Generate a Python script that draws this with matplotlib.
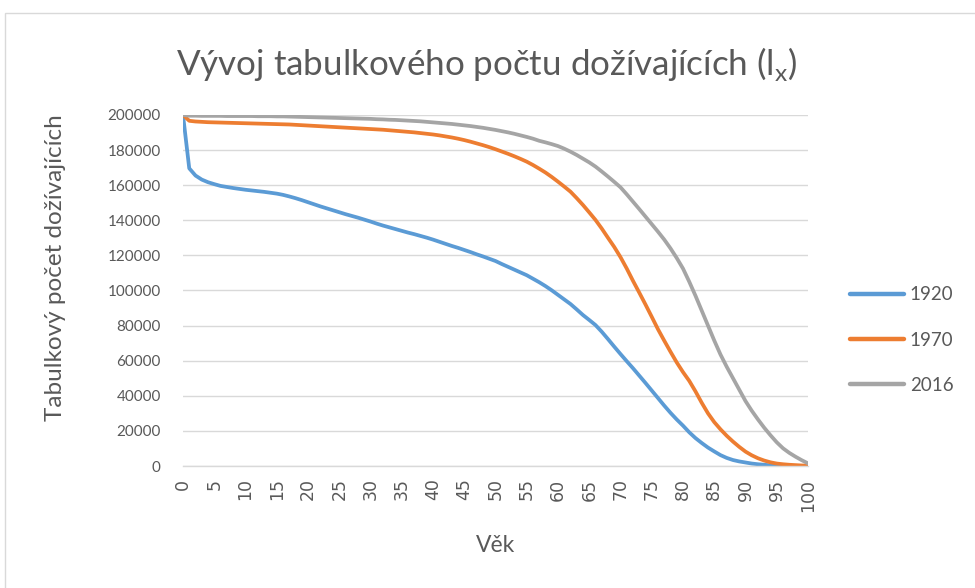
import matplotlib
matplotlib.use("Agg")
import matplotlib.pyplot as plt
from matplotlib.patches import Rectangle

plt.rcParams['font.family'] = ['Lato', 'DejaVu Sans']
plt.rcParams['mathtext.fontset'] = 'custom'
plt.rcParams['mathtext.rm'] = 'Lato'

ages = list(range(0, 101))
x_tick_values = list(range(0, 101, 5))
y_tick_values = list(range(0, 200001, 20000))

series_names = ["1920", "1970", "2016"]

lx_1920 = [200000, 169600, 165500, 163200, 161700, 160600, 159600, 159000, 158400, 157900,
           157400, 157000, 156600, 156200, 155700, 155200, 154500, 153600, 152600, 151500,
           150300, 149100, 147900, 146800, 145700, 144600, 143500, 142500, 141500, 140400,
           139300, 138100, 137000, 136000, 135000, 134000, 133000, 132100, 131100, 130100,
           129000, 127800, 126600, 125400, 124300, 123100, 121900, 120600, 119400, 118100,
           116800, 115100, 113500, 111900, 110300, 108700, 106700, 104700, 102500, 100100,
           97500, 94900, 92300, 89200, 86000, 83200, 80300, 76500, 72300, 68000,
           63800, 59700, 55700, 51500, 47300, 43000, 38700, 34400, 30300, 26500,
           23000, 19200, 15900, 13100, 10500, 8300, 6200, 4600, 3400, 2600,
           2000, 1400, 1000, 700, 400, 250, 150, 90, 50, 30, 20]

lx_1970 = [200000, 196700, 196300, 196100, 195900, 195800, 195700, 195600, 195500, 195400,
           195300, 195200, 195100, 195000, 194900, 194800, 194700, 194600, 194400, 194200,
           194000, 193800, 193600, 193400, 193200, 193000, 192800, 192600, 192400, 192200,
           192000, 191800, 191600, 191300, 191000, 190700, 190400, 190100, 189700, 189300,
           188900, 188400, 187800, 187200, 186500, 185700, 184800, 183800, 182800, 181700,
           180500, 179200, 177900, 176500, 175000, 173400, 171500, 169400, 167200, 164700,
           162000, 159200, 156300, 152600, 148700, 144500, 140200, 135300, 130000, 124800,
           119000, 112500, 105500, 98800, 92000, 85000, 77900, 71400, 65100, 59000,
           53500, 48500, 42500, 36000, 30000, 25000, 20900, 17200, 13900, 10900,
           8200, 6100, 4400, 3100, 2100, 1400, 1000, 700, 500, 300, 200]

lx_2016 = [200000, 199600, 199600, 199500, 199500, 199500, 199500, 199400, 199400, 199400,
           199400, 199400, 199300, 199300, 199300, 199200, 199200, 199100, 199000, 198900,
           198800, 198700, 198600, 198500, 198400, 198300, 198200, 198100, 198000, 197900,
           197800, 197600, 197500, 197300, 197200, 197000, 196800, 196600, 196400, 196100,
           195800, 195500, 195200, 194900, 194500, 194100, 193700, 193200, 192700, 192100,
           191500, 190800, 190100, 189300, 188400, 187500, 186500, 185300, 184400, 183400,
           182300, 180800, 179100, 177200, 175100, 173000, 170600, 167800, 164900, 161900,
           158800, 154800, 150600, 146400, 142100, 137800, 133500, 129000, 124000, 118500,
           112500, 105000, 97000, 88500, 80000, 71500, 63500, 56500, 50000, 43500,
           37000, 31500, 26500, 21800, 17500, 13500, 10100, 7500, 5300, 3300, 1500]

colors = ['#5B9BD5', '#ED7D31', '#A5A5A5']
text_color = '#595959'
grid_color = '#d9d9d9'

W, H = 975, 588
fig = plt.figure(figsize=(W / 100, H / 100), dpi=100)

# chart area border
fig.patches.append(Rectangle((5 / W, -0.1), 1.2, (H - 13) / H + 0.1,
                             transform=fig.transFigure, fill=False,
                             edgecolor=grid_color, linewidth=1.0, clip_on=False))

ax = fig.add_axes([183 / W, (H - 466) / H, (808 - 183) / W, (466 - 115) / H])

for name, vals, c in zip(series_names, [lx_1920, lx_1970, lx_2016], colors):
    ax.plot(ages, vals, color=c, lw=2.7, label=name, solid_capstyle='round',
            solid_joinstyle='round')

ax.set_xlim(0, 100)
ax.set_ylim(0, 200000)
ax.set_yticks(y_tick_values)
ax.set_yticklabels([str(v) for v in y_tick_values])
ax.set_xticks(x_tick_values)
ax.set_xticklabels([str(v) for v in x_tick_values], rotation=90, va='top',
                   family=['DejaVu Sans'])
ax.grid(axis='y', color=grid_color, lw=1.0)
ax.set_axisbelow(True)
for s in ['left', 'top', 'right']:
    ax.spines[s].set_visible(False)
ax.spines['bottom'].set_color(grid_color)
ax.spines['bottom'].set_linewidth(1.0)
ax.tick_params(axis='both', length=0, colors=text_color)
ax.tick_params(axis='y', pad=16, labelsize=11)
ax.tick_params(axis='x', pad=9, labelsize=12.5)

fig.text(487 / W, 1 - 64 / H, 'Vývoj tabulkového počtu dožívajících (l$_\\mathregular{x}$)',
         ha='center', va='center', fontsize=25.2, color=text_color)
fig.text(56 / W, 1 - 268 / H, 'Tabulkový počet dožívajících', rotation=90,
         ha='center', va='center', fontsize=17.5, color=text_color)
fig.text(496 / W, 1 - 546 / H, 'Věk', ha='center', va='center',
         fontsize=16.5, color=text_color)

leg = fig.legend(loc='center left', bbox_to_anchor=(833 / W, 1 - 340 / H),
                 frameon=False, fontsize=13.5, handlelength=2.9, handletextpad=0.3,
                 labelspacing=1.5, labelcolor=text_color)
for line in leg.get_lines():
    line.set_linewidth(3.2)

fig.savefig('out.png', dpi=100)
